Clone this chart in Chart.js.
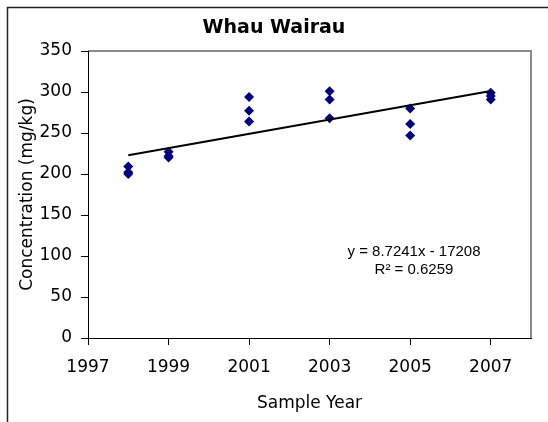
<!DOCTYPE html>
<html><head><meta charset="utf-8">
<script src="https://cdn.jsdelivr.net/npm/chart.js@4/dist/chart.umd.min.js"></script>
<style>html,body{margin:0;padding:0;background:#fff;}#wrap{width:548px;height:422px;}</style>
</head><body><div id="wrap"><canvas id="c" width="548" height="422"></canvas></div>
<script>
const years = [1998,1998,1998,1999,1999,1999,2001,2001,2001,2003,2003,2003,2005,2005,2005,2007,2007,2007];
const concentrations = [209,202,200,227,222,220,294,277,264,301,291,268,280,261,247,299,295,291];
const xTicks = [1997,1999,2001,2003,2005,2007];
const yTicks = [0,50,100,150,200,250,300,350];
const trendSlope = 8.7241;
const trendIntercept = -17208;
const trendYears = [1998, 2007];
const titleText = 'Whau Wairau';
const xTitle = 'Sample Year';
const yTitle = 'Concentration (mg/kg)';
const eqLines = ['y = 8.7241x - 17208', 'R\u00B2 = 0.6259'];

const FONT = 'DejaVu Sans';
const scatterData = years.map((x, i) => ({x: x, y: concentrations[i]}));
const trendData = trendYears.map(x => ({x: x, y: trendSlope * x + trendIntercept}));

const decor = {
  id: 'decor',
  beforeDraw(chart) {
    const ctx = chart.ctx;
    ctx.save();
    ctx.fillStyle = '#fff';
    ctx.fillRect(0, 0, chart.width, chart.height);
    ctx.strokeStyle = '#222';
    ctx.lineWidth = 1.5;
    ctx.strokeRect(7.5, 7.5, 700, 700);
    const a = chart.chartArea;
    ctx.strokeStyle = '#8c8c8c';
    ctx.lineWidth = 2;
    ctx.beginPath();
    ctx.moveTo(a.left, a.top);
    ctx.lineTo(a.right, a.top);
    ctx.lineTo(a.right, a.bottom);
    ctx.stroke();
    ctx.fillStyle = '#000';
    ctx.font = 'bold 19px ' + FONT;
    ctx.textAlign = 'center';
    ctx.textBaseline = 'middle';
    ctx.fillText(titleText, 274, 28);
    ctx.restore();
  },
  afterDatasetsDraw(chart) {
    const ctx = chart.ctx;
    ctx.save();
    ctx.fillStyle = '#000';
    ctx.font = '15px "Liberation Sans"';
    ctx.textAlign = 'center';
    ctx.textBaseline = 'middle';
    ctx.fillText(eqLines[0], 414, 252);
    ctx.fillText(eqLines[1], 414, 270);
    ctx.restore();
  }
};

new Chart(document.getElementById('c'), {
  type: 'scatter',
  data: {
    datasets: [
      {
        type: 'scatter',
        data: scatterData,
        pointStyle: 'rectRot',
        pointRadius: 5,
        pointHoverRadius: 5,
        backgroundColor: '#000080',
        borderColor: '#000080',
        borderWidth: 0,
        order: 2
      },
      {
        type: 'line',
        data: trendData,
        borderColor: '#000',
        borderWidth: 2,
        pointRadius: 0,
        fill: false,
        order: 1
      }
    ]
  },
  options: {
    responsive: false,
    animation: false,
    devicePixelRatio: 1,
    layout: {padding: {left: 0, top: 51, right: 17, bottom: 0}},
    plugins: {legend: {display: false}, title: {display: false}, tooltip: {enabled: false}},
    scales: {
      x: {
        type: 'linear',
        min: 1997, max: 2008,
        afterBuildTicks: s => { s.ticks = xTicks.map(v => ({value: v})); },
        afterFit: s => { s.height = 84; },
        ticks: {font: {family: FONT, size: 17}, color: '#000', padding: 12, maxRotation: 0, autoSkip: false, callback: v => String(v)},
        grid: {drawOnChartArea: false, drawTicks: true, tickLength: 7, color: '#000', lineWidth: 1},
        border: {display: true, color: '#000', width: 1},
        title: {display: true, text: xTitle, color: '#000', font: {family: FONT, size: 17}, padding: {top: 0, bottom: 8}}
      },
      y: {
        type: 'linear',
        min: 0, max: 350,
        afterBuildTicks: s => { s.ticks = yTicks.map(v => ({value: v})); },
        afterFit: s => { s.width = 88; },
        ticks: {font: {family: FONT, size: 17}, color: '#000', padding: 9},
        grid: {drawOnChartArea: false, drawTicks: true, tickLength: 7, color: '#000', lineWidth: 1},
        border: {display: true, color: '#000', width: 1},
        title: {display: true, text: yTitle, color: '#000', font: {family: FONT, size: 17}, padding: {top: 17, bottom: 0}}
      }
    }
  },
  plugins: [decor]
});
</script></body></html>
